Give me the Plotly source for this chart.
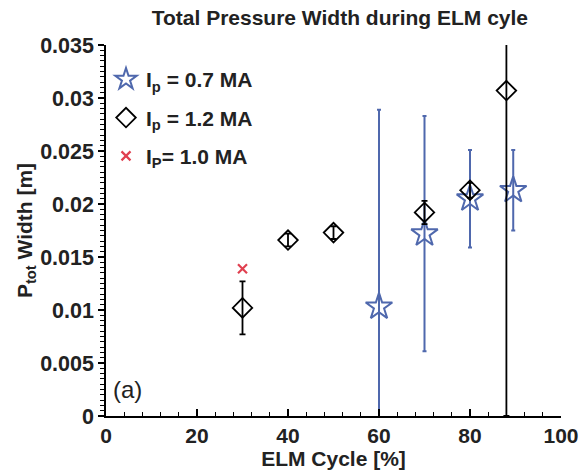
import plotly.graph_objects as go

# Data
elm_07 = [60, 70, 80, 89.5]
w_07 = [0.0103, 0.0172, 0.0205, 0.0213]
err_07 = [0.0186, 0.0111, 0.0046, 0.0038]

elm_12 = [30, 40, 50, 70, 80, 88]
w_12 = [0.0102, 0.0166, 0.0173, 0.0192, 0.0213, 0.0307]
err_12 = [0.0025, 0.0006, 0.0006, 0.0011, 0.0007, 0.0307]

elm_10 = [30]
w_10 = [0.0139]

blue = "#4f68ad"
font_family = "Liberation Sans, Arial, sans-serif"
txt = "#222"

fig = go.Figure()
fig.add_trace(go.Scatter(
    x=elm_07, y=w_07, mode="markers",
    name="I<sub>p</sub> = 0.7 MA", legendgroup="a",
    marker=dict(symbol="star-open", size=20, color=blue, line=dict(width=2, color=blue)),
    error_y=dict(type="data", array=err_07, color=blue, thickness=2, width=2),
))
fig.add_trace(go.Scatter(
    x=elm_12, y=w_12, mode="markers",
    name="I<sub>p</sub> = 1.2 MA", legendgroup="b",
    marker=dict(symbol="diamond-open", size=15, color="black", line=dict(width=1.8, color="black")),
    error_y=dict(type="data", array=err_12, color="black", thickness=1.8, width=3),
))
fig.add_trace(go.Scatter(
    x=elm_10, y=w_10, mode="markers",
    name="I<sub>P</sub>= 1.0 MA", legendgroup="c",
    marker=dict(symbol="x-thin-open", size=9, color="#e04050", line=dict(width=2.2, color="#e04050")),
))

fig.update_layout(
    width=579, height=472,
    margin=dict(l=106, r=18, t=45, b=56),
    paper_bgcolor="white", plot_bgcolor="white",
    font=dict(family=font_family, color="black"),
    title=dict(text="Total Pressure Width during ELM cyle", x=0.587, xanchor="center",
               y=0.963, yanchor="middle", automargin=False,
               font=dict(size=21, weight="bold", family=font_family, color=txt)),
    showlegend=True,
    legend=dict(x=0.0, y=0.962, xanchor="left", yanchor="top", bgcolor="rgba(0,0,0,0)",
                font=dict(size=21, weight="bold", family=font_family, color=txt),
                tracegroupgap=8, itemwidth=30),
    annotations=[dict(text="(a)", x=0.0, y=0.03, xref="paper", yref="paper",
                      xanchor="left", yanchor="bottom", showarrow=False, xshift=5,
                      font=dict(size=24, family=font_family, color=txt))],
)
fig.update_xaxes(
    range=[0, 100], tickmode="array", tickvals=[0, 20, 40, 60, 80, 100],
    automargin=False,
    showline=True, linecolor="black", linewidth=1.5, showgrid=False, zeroline=False,
    ticks="inside", ticklen=7, tickwidth=1.5, tickcolor="black",
    minor=dict(dtick=4, ticks="inside", ticklen=4, tickwidth=1.2, tickcolor="black", showgrid=False),
    tickfont=dict(size=21, weight="bold", family=font_family, color=txt),
    title=dict(text="ELM Cycle [%]", standoff=0,
               font=dict(size=21, weight="bold", family=font_family, color=txt)),
)
fig.update_yaxes(
    range=[0, 0.035], tickmode="array",
    tickvals=[0, 0.005, 0.01, 0.015, 0.02, 0.025, 0.03, 0.035],
    ticktext=["0", "0.005", "0.01", "0.015", "0.02", "0.025", "0.03", "0.035"],
    automargin=False,
    showline=True, linecolor="black", linewidth=1.5, showgrid=False, zeroline=False,
    ticks="outside", ticklen=6, tickwidth=1.5, tickcolor="black",
    minor=dict(dtick=0.0005, ticks="outside", ticklen=4, tickwidth=1.2, tickcolor="black", showgrid=False),
    tickfont=dict(size=21.5, weight="bold", family=font_family, color=txt),
    title=dict(text="P<sub>tot</sub> Width [m]", standoff=2,
               font=dict(size=21, weight="bold", family=font_family, color=txt)),
)

fig.write_html("out.html")
